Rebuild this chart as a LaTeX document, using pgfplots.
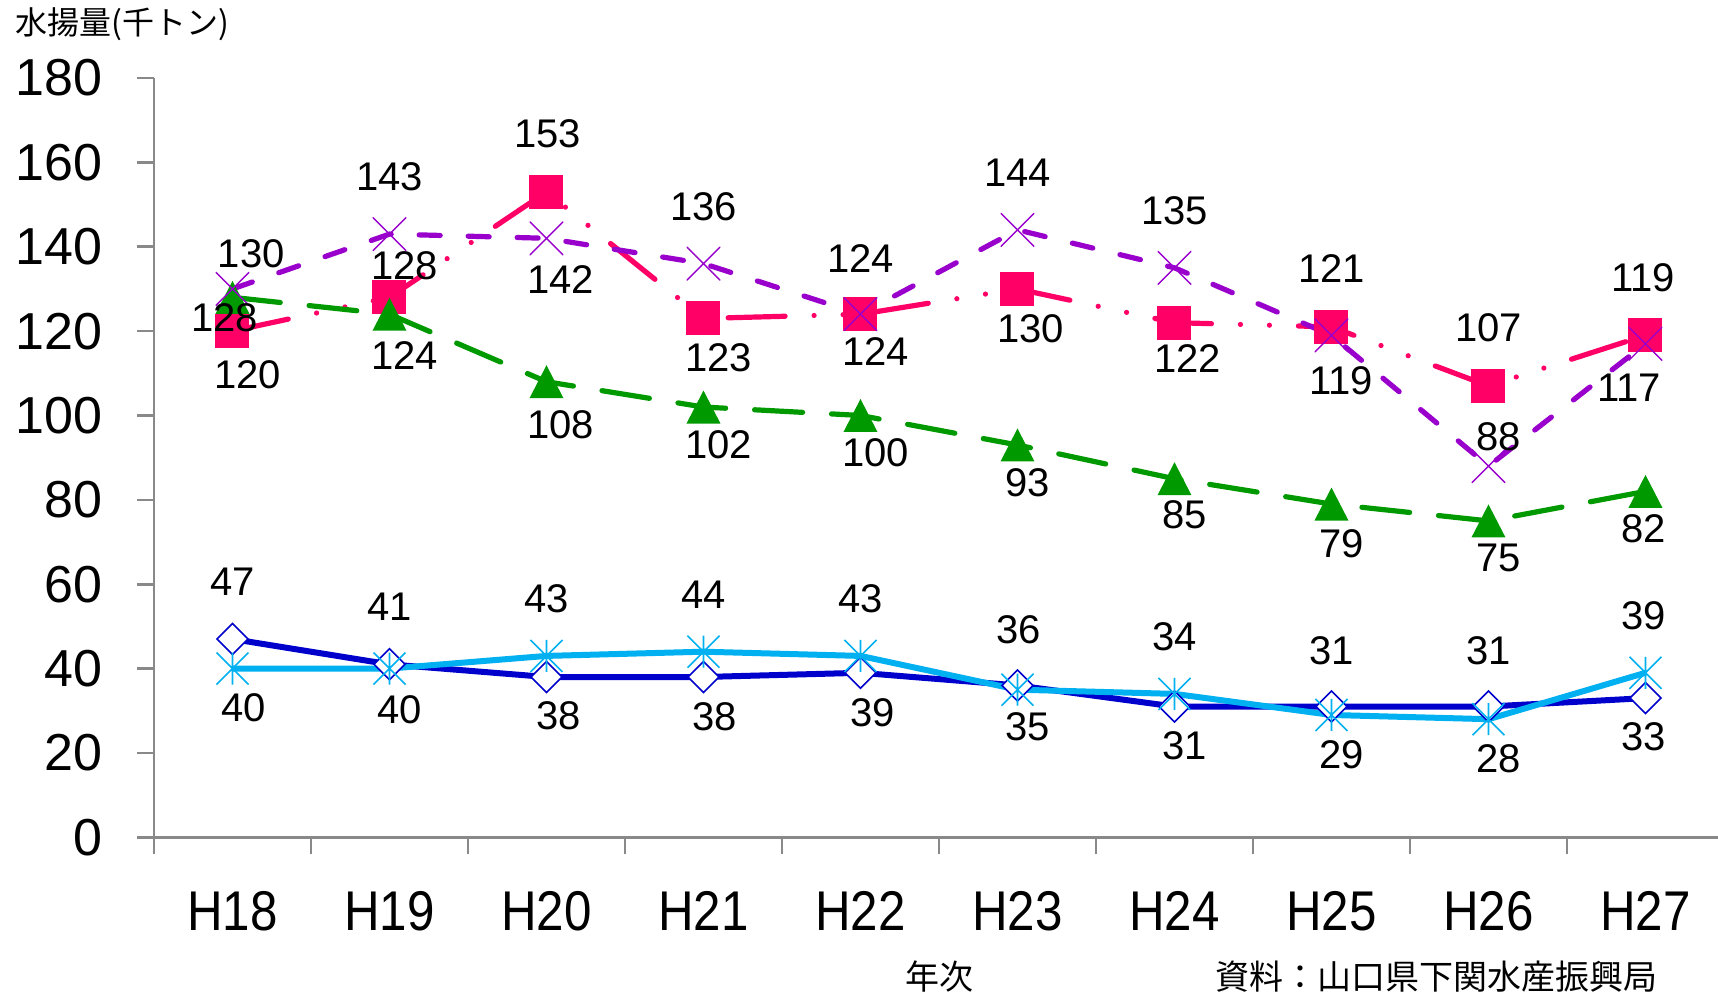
\documentclass[border=0pt]{standalone}
\usepackage{fontspec}
\setmainfont{Liberation Sans}
\newfontfamily\cond[FakeStretch=0.88]{Liberation Sans}
\newfontfamily\jp{Noto Sans CJK JP}
\usepackage{pgfplots}
\usepackage{pgfplotstable}
\pgfplotsset{compat=1.18}
\definecolor{axisgray}{HTML}{898989}
\definecolor{cdark}{HTML}{0000CC}
\definecolor{clight}{HTML}{00B0F0}
\definecolor{cpink}{HTML}{FF0066}
\definecolor{cpurple}{HTML}{9900CC}
\definecolor{cgreen}{HTML}{009900}

\pgfdeclareplotmark{xstar}{%
  \pgfpathmoveto{\pgfqpoint{-\pgfplotmarksize}{-\pgfplotmarksize}}%
  \pgfpathlineto{\pgfqpoint{\pgfplotmarksize}{\pgfplotmarksize}}%
  \pgfpathmoveto{\pgfqpoint{-\pgfplotmarksize}{\pgfplotmarksize}}%
  \pgfpathlineto{\pgfqpoint{\pgfplotmarksize}{-\pgfplotmarksize}}%
  \pgfpathmoveto{\pgfqpoint{0pt}{-\pgfplotmarksize}}%
  \pgfpathlineto{\pgfqpoint{0pt}{\pgfplotmarksize}}%
  \pgfusepathqstroke}
\pgfdeclareplotmark{xcross}{%
  \pgfpathmoveto{\pgfqpoint{-\pgfplotmarksize}{-\pgfplotmarksize}}%
  \pgfpathlineto{\pgfqpoint{\pgfplotmarksize}{\pgfplotmarksize}}%
  \pgfpathmoveto{\pgfqpoint{-\pgfplotmarksize}{\pgfplotmarksize}}%
  \pgfpathlineto{\pgfqpoint{\pgfplotmarksize}{-\pgfplotmarksize}}%
  \pgfusepathqstroke}
\pgfdeclareplotmark{dmd}{%
  \pgfpathmoveto{\pgfqpoint{0pt}{\pgfplotmarksize}}%
  \pgfpathlineto{\pgfqpoint{\pgfplotmarksize}{0pt}}%
  \pgfpathlineto{\pgfqpoint{0pt}{-\pgfplotmarksize}}%
  \pgfpathlineto{\pgfqpoint{-\pgfplotmarksize}{0pt}}%
  \pgfpathclose
  \pgfusepathqfillstroke}
\pgfdeclareplotmark{tri}{%
  \pgfpathmoveto{\pgfqpoint{-\pgfplotmarksize}{-0.97\pgfplotmarksize}}%
  \pgfpathlineto{\pgfqpoint{\pgfplotmarksize}{-0.97\pgfplotmarksize}}%
  \pgfpathlineto{\pgfqpoint{0pt}{0.97\pgfplotmarksize}}%
  \pgfpathclose
  \pgfusepathqfill}
\pgfdeclareplotmark{sq}{%
  \pgfpathrectangle{\pgfqpoint{-\pgfplotmarksize}{-\pgfplotmarksize}}{\pgfqpoint{2\pgfplotmarksize}{2\pgfplotmarksize}}%
  \pgfusepathqfill}

% x y dx dy  (label offsets)
\pgfplotstableread{
x y dx dy
0 47 0 52
1 41 0 53
2 38 11 -35
3 38 10 -36
4 39 11 -36
5 36 1 51
6 31 9 -36
7 31 0 51
8 31 0 51
9 33 -2 -35
}\tdark
\pgfplotstableread{
x y dx dy
0 40 10 -36
1 40 9 -38
2 43 0 52
3 44 0 52
4 43 0 52
5 35 9 -34
6 34 0 52
7 29 9 -36
8 28 9 -36
9 39 -2 52
}\tlight
\pgfplotstableread{
x y dx dy
0 120 14 -40
1 128 14 29
2 153 1 53
3 123 14 -36
4 124 14 -34
5 130 12 -36
6 122 12 -33
7 121 0 53
8 107 0 53
9 119 -2 53
}\tpink
\pgfplotstableread{
x y dx dy
0 130 17 32
1 143 0 52
2 142 13 -38
3 136 0 52
4 124 0 51
5 144 0 52
6 135 0 52
7 119 9 -41
8 88 9 27
9 117 -15 -40
}\tpurple
\pgfplotstableread{
x y dx dy
0 128 -7 -19
1 124 14 -38
2 108 13 -39
3 102 14 -34
4 100 14 -34
5 93 9 -34
6 85 9 -33
7 79 9 -36
8 75 9 -34
9 82 -2 -34
}\tgreen

\pgfplotsset{
  lab/.style={draw=none, mark=none, point meta=explicit symbolic,
    visualization depends on={\thisrow{dx}\as\dx},
    visualization depends on={\thisrow{dy}\as\dy},
    nodes near coords,
    every node near coord/.append style={anchor=center, inner sep=0pt,
      xshift=\dx*0.548pt, yshift=\dy*0.548pt,
      font=\fontsize{20}{22}\selectfont, text=black}},
}

\begin{document}
\begin{tikzpicture}
\useasboundingbox (-77pt,-80.35pt) rectangle (782pt,418.65pt);
\begin{axis}[
  at={(0,0)}, anchor=south west,
  scale only axis, width=782pt, height=379.65pt,
  xmin=-0.5, xmax=9.462, ymin=0, ymax=180,
  axis lines=left,
  axis line style={-, draw=axisgray, line width=1.3pt},
  tick align=outside,
  major tick length=8.5pt,
  tick style={draw=axisgray, line width=1.3pt},
  xtick={-0.5,0.5,1.5,2.5,3.5,4.5,5.5,6.5,7.5,8.5},
  xticklabels={H18,H19,H20,H21,H22,H23,H24,H25,H26,H27},
  xticklabel style={xshift=39.25pt, yshift=-14.8pt, font=\cond\fontsize{28}{30}\selectfont},
  ytick={0,20,...,180},
  yticklabel style={xshift=-13.7pt, font=\fontsize{26}{28}\selectfont},
  /pgf/number format/assume math mode=true,
  clip=false,
]
\addplot[cdark, line width=3pt, mark=dmd, mark size=7.75pt,
  mark options={solid, draw=cdark, fill=white, line width=0.8pt}]
  table[x=x,y=y]{\tdark};
\addplot[clight, line width=3pt, mark=xstar, mark size=8pt,
  mark options={solid, draw=clight, line width=0.8pt}]
  table[x=x,y=y]{\tlight};
\addplot[cpink, line width=2.6pt, line cap=round,
  dash pattern=on 28.5pt off 14.5pt on 0pt off 14.5pt on 0pt off 14.5pt,
  mark=sq, mark size=8.5pt, mark options={solid, fill=cpink}]
  table[x=x,y=y]{\tpink};
\addplot[cgreen, line width=2.6pt, line cap=round,
  dash pattern=on 24pt off 14.5pt,
  mark=tri, mark size=8.5pt, mark options={solid, fill=cgreen}]
  table[x=x,y=y]{\tgreen};
\addplot[cpurple, line width=2.6pt, line cap=round,
  dash pattern=on 10.5pt off 14pt,
  mark=xcross, mark size=8.25pt, mark options={solid, draw=cpurple, line width=0.7pt}]
  table[x=x,y=y]{\tpurple};
\addplot[lab] table[x=x,y=y,meta=y]{\tdark};
\addplot[lab] table[x=x,y=y,meta=y]{\tlight};
\addplot[lab] table[x=x,y=y,meta=y]{\tpink};
\addplot[lab] table[x=x,y=y,meta=y]{\tpurple};
\addplot[lab] table[x=x,y=y,meta=y]{\tgreen};
\end{axis}
\node[anchor=west, inner sep=0pt, font=\jp\fontsize{16}{18}\selectfont] at (-69.5pt,406.6pt) {水揚量(千トン)};
\node[anchor=center, inner sep=0pt, font=\jp\fontsize{17}{19}\selectfont] at (392.5pt,-69.85pt) {年次};
\node[anchor=east, inner sep=0pt, font=\jp\fontsize{17}{19}\selectfont] at (752pt,-69.85pt) {資料：山口県下関水産振興局};
\end{tikzpicture}
\end{document}
